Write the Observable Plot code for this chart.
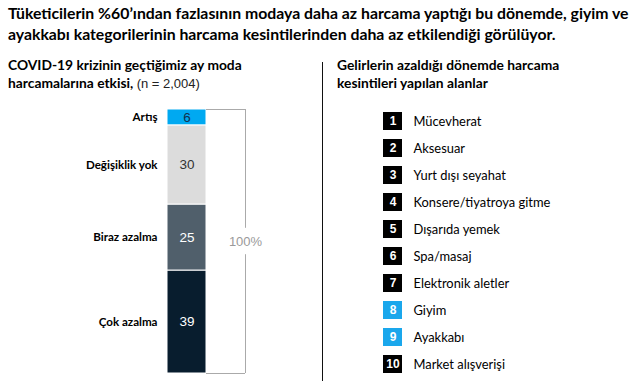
<!DOCTYPE html>
<html>
<head>
<meta charset="utf-8">
<script src="https://cdn.jsdelivr.net/npm/d3@7"></script>
<script src="https://cdn.jsdelivr.net/npm/@observablehq/plot@0.6"></script>
<style>
  html, body { margin: 0; padding: 0; background: #fff; }
  body { width: 636px; height: 381px; position: relative; overflow: hidden; font-family: Lato, "Open Sans", sans-serif; color: #000; }
  #title { position: absolute; left: 8px; top: 2px; width: 630px; font-weight: 700; font-size: 15.8px; line-height: 21px; white-space: nowrap; }
  .sub { position: absolute; top: 56px; font-size: 13.8px; line-height: 18px; font-weight: 700; white-space: nowrap; }
  #subL { left: 8px; }
  #subR { left: 337px; }
  .light { font-family: "Liberation Sans", Arial, sans-serif; font-weight: 400; color: #222; font-size: 13px; }
  #divider { position: absolute; left: 322px; top: 62px; width: 1px; height: 319px; background: #111; }
  #left { position: absolute; left: 0; top: 100px; }
  #right { position: absolute; left: 323px; top: 100px; }
</style>
</head>
<body>
<div id="title">Tüketicilerin %60’ından fazlasının modaya daha az harcama yaptığı bu dönemde, giyim ve<br>ayakkabı kategorilerinin harcama kesintilerinden daha az etkilendiği görülüyor.</div>
<div class="sub" id="subL">COVID-19 krizinin geçtiğimiz ay moda<br>harcamalarına etkisi, <span class="light">(n = 2,004)</span></div>
<div class="sub" id="subR">Gelirlerin azaldığı dönemde harcama<br>kesintileri yapılan alanlar</div>
<div id="divider"></div>
<div id="left"></div>
<div id="right"></div>
<script>
// Left chart: share of respondents (top to bottom)
const categories = ["Artış", "Değişiklik yok", "Biraz azalma", "Çok azalma"];
const shares = [6, 30, 25, 39];
const barColors = ["#00a9f1", "#dcdcdc", "#505f6b", "#081d2e"];
const valueColors = ["#12314f", "#333333", "#ffffff", "#ffffff"];
const totalLabel = ["100%"];

// Right list: ranked spending cuts
const ranks = [1, 2, 3, 4, 5, 6, 7, 8, 9, 10];
const items = ["Mücevherat", "Aksesuar", "Yurt dışı seyahat", "Konsere/tiyatroya gitme", "Dışarıda yemek", "Spa/masaj", "Elektronik aletler", "Giyim", "Ayakkabı", "Market alışverişi"];
const highlighted = ["Giyim", "Ayakkabı"];

// stack bottom-up
const stackData = categories.map((c, i) => ({category: c, value: shares[i], fill: barColors[i], tfill: valueColors[i]})).reverse();

const left = Plot.plot({
  width: 322,
  height: 281,
  margin: 0,
  x: {domain: [0, 2], range: [167, 245], axis: null},
  y: {domain: [0, 100], range: [273, 9], axis: null},
  marks: [
    Plot.rectY(stackData, {x1: 0, x2: 1, y: "value", fill: "fill", stroke: "#fff", strokeWidth: 1}),
    Plot.text(stackData, Plot.stackY({x: 0.5, y: "value", text: "value", fill: "tfill", fontSize: 13.5, fontFamily: "Liberation Sans, Arial, sans-serif"})),
    Plot.text(stackData, Plot.stackY({x: 0, y: "value", text: "category", textAnchor: "end", dx: -10, fill: "#000", fontSize: 11.6, fontWeight: 700, fontFamily: "Lato, 'Open Sans', sans-serif"})),
    Plot.ruleY([0, 100], {x1: 1, x2: 2, stroke: "#aaa", strokeWidth: 1}),
    Plot.ruleX([2], {y1: 0, y2: 45, stroke: "#aaa", strokeWidth: 1}),
    Plot.ruleX([2], {y1: 55, y2: 100, stroke: "#aaa", strokeWidth: 1}),
    Plot.text(totalLabel, {x: 2, y: 50, text: d => d, fill: "#9a9a9a", fontSize: 13, fontFamily: "Liberation Sans, Arial, sans-serif"})
  ]
});
document.getElementById("left").appendChild(left);

const listData = ranks.map((r, i) => ({rank: r, item: items[i], fill: highlighted.includes(items[i]) ? "#1aa7ec" : "#000"}));

const right = Plot.plot({
  width: 313,
  height: 281,
  margin: 0,
  x: {domain: ["box"], range: [60, 79], padding: 0, axis: null},
  y: {domain: ranks, range: [6.4, 278.4], paddingInner: 0.34, paddingOuter: 0.17, axis: null},
  marks: [
    Plot.cell(listData, {x: () => "box", y: "rank", fill: "fill"}),
    Plot.text(listData, {x: () => "box", y: "rank", text: "rank", fill: "#fff", fontWeight: "bold", fontSize: 12, fontFamily: "Liberation Sans, Arial, sans-serif"}),
    Plot.text(listData, {x: () => "box", y: "rank", text: "item", textAnchor: "start", dx: 20.5, fill: "#000", fontSize: 12.9, fontFamily: "Lato, 'Open Sans', sans-serif"})
  ]
});
document.getElementById("right").appendChild(right);
</script>
</body>
</html>
